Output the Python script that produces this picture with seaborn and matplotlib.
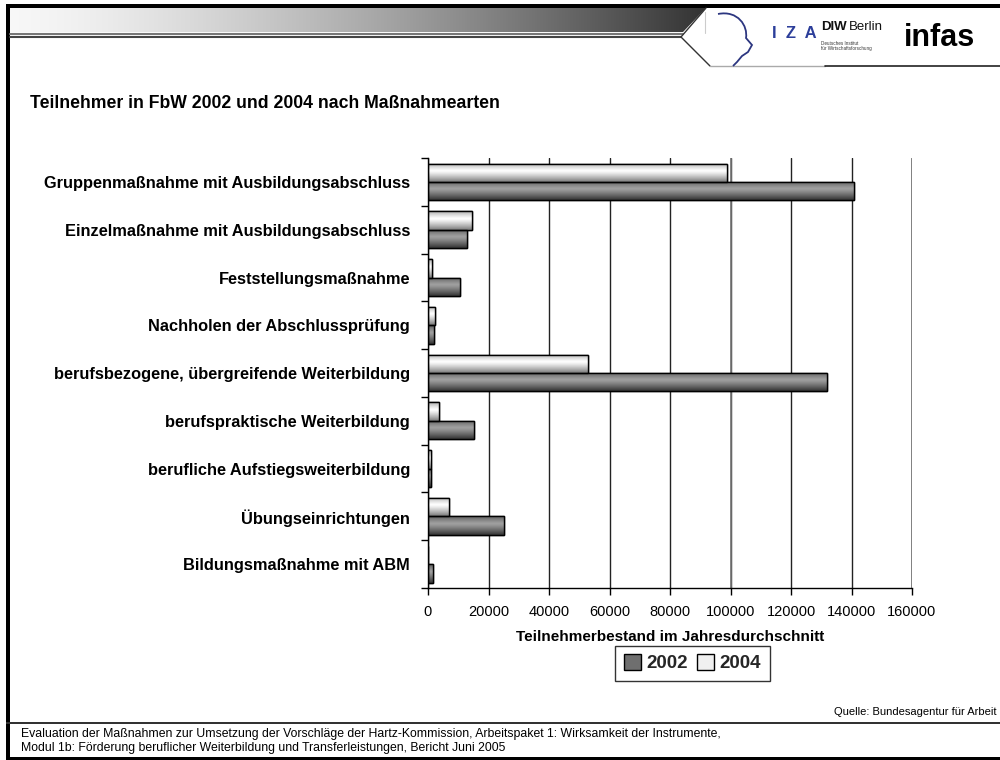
import numpy as np
import pandas as pd
import matplotlib
matplotlib.use("Agg")
import matplotlib.pyplot as plt
import seaborn as sns
from matplotlib.patches import Rectangle, Polygon
from matplotlib.path import Path
from matplotlib.patches import PathPatch

# ---------------- data ----------------
categories = [
    "Gruppenmaßnahme mit Ausbildungsabschluss",
    "Einzelmaßnahme mit Ausbildungsabschluss",
    "Feststellungsmaßnahme",
    "Nachholen der Abschlussprüfung",
    "berufsbezogene, übergreifende Weiterbildung",
    "berufspraktische Weiterbildung",
    "berufliche Aufstiegsweiterbildung",
    "Übungseinrichtungen",
    "Bildungsmaßnahme mit ABM",
]
values_2002 = [140700, 13000, 10600, 2100, 132000, 15100, 900, 25000, 1800]
values_2004 = [99000, 14500, 1200, 2300, 53000, 3600, 900, 7000, 0]
years = ["2002", "2004"]
x_ticks = [0, 20000, 40000, 60000, 80000, 100000, 120000, 140000, 160000]

df = pd.DataFrame({
    "Kategorie": categories * 2,
    "Jahr": ["2002"] * len(categories) + ["2004"] * len(categories),
    "Wert": values_2002 + values_2004,
})

sns.set_theme(style="white")
plt.rcParams["font.family"] = ["Liberation Sans", "DejaVu Sans"]

fig = plt.figure(figsize=(10, 7.6), dpi=100)
fig.patch.set_facecolor("white")

ax = fig.add_axes([0.428, 0.2263, 0.484, 0.5657])

palette = {"2002": "#6f6f6f", "2004": "#ececec"}
sns.barplot(data=df, y="Kategorie", x="Wert", hue="Jahr", order=categories,
            hue_order=["2004", "2002"], palette=palette, orient="h",
            width=0.77, edgecolor="black", linewidth=1.0, ax=ax, legend=False,
            saturation=1, err_kws={"linewidth": 0})

# gradient shading inside each bar (cylinder look)
def shade(col_edge, col_mid):
    t = np.linspace(0, 1, 64)
    prof = np.abs(t - 0.4) / 0.6
    prof = np.clip(prof, 0, 1) ** 1.2
    c0 = np.array(matplotlib.colors.to_rgb(col_mid))
    c1 = np.array(matplotlib.colors.to_rgb(col_edge))
    img = c0[None, :] * (1 - prof[:, None]) + c1[None, :] * prof[:, None]
    return img[:, None, :]

grad_dark = shade("#333333", "#a0a0a0")
grad_light = shade("#7a7a7a", "#ffffff")
for p in list(ax.patches):
    w = p.get_width()
    if w <= 0:
        continue
    fc = matplotlib.colors.to_hex(p.get_facecolor())
    g = grad_dark if fc.lower() == "#6f6f6f" else grad_light
    y0, h = p.get_y(), p.get_height()
    im = ax.imshow(g, extent=[p.get_x(), p.get_x() + w, y0 + h, y0],
                   aspect="auto", zorder=p.get_zorder() + 0.1, interpolation="bilinear")
    im.set_clip_path(p)
    edge = Rectangle((p.get_x(), y0), w, h, fill=False, edgecolor="black",
                     linewidth=1.0, zorder=p.get_zorder() + 0.2)
    ax.add_patch(edge)

ax.set_xlim(0, 160000)
ax.set_ylim(len(categories) - 0.5, -0.5)
ax.set_xticks(x_ticks)
ax.set_xticklabels([str(v) for v in x_ticks], fontsize=10.5, color="black")
ax.set_yticks(range(len(categories)))
ax.set_yticklabels(categories, fontsize=11.8, fontweight="bold", color="black")
ax.tick_params(axis="y", length=0, pad=13)
ax.tick_params(axis="x", length=5, width=1, direction="out", color="black", pad=7, bottom=True)
ax.set_yticks(np.arange(-0.5, len(categories), 1.0), minor=True)
ax.tick_params(axis="y", which="minor", length=5, width=1, direction="out", color="black", left=True)

ax.grid(axis="x", color="#222222", linewidth=1.0)
ax.grid(axis="y", visible=False)
ax.set_axisbelow(True)
for s in ["top", "right"]:
    ax.spines[s].set_visible(False)
for s in ["left", "bottom"]:
    ax.spines[s].set_color("black")
    ax.spines[s].set_linewidth(1.0)
ax.axvline(160000, color="#888888", linewidth=1.2, zorder=0.5)
ax.axvline(100000, color="#777777", linewidth=1.2, zorder=0.6)
ax.set_ylabel("")
ax.set_xlabel("Teilnehmerbestand im Jahresdurchschnitt", fontsize=11,
              fontweight="bold", labelpad=8, color="black")

# legend
handles = [Rectangle((0, 0), 1, 1, facecolor="#6f6f6f", edgecolor="black"),
           Rectangle((0, 0), 1, 1, facecolor="#f0f0f0", edgecolor="black")]
leg = fig.legend(handles, years, loc="center", bbox_to_anchor=(0.6925, 0.1275),
                 ncol=2, frameon=True, fancybox=False, handlelength=0.9,
                 handleheight=0.9, handletextpad=0.3, columnspacing=0.5,
                 borderpad=0.45, prop={"weight": "bold", "size": 13.5})
leg.get_frame().set_edgecolor("black")
leg.get_frame().set_linewidth(1.0)

# ---------------- slide decoration ----------------
deco = fig.add_axes([0, 0, 1, 1], zorder=-1)
deco.set_xlim(0, 1000)
deco.set_ylim(760, 0)
deco.axis("off")

# top black border
deco.add_patch(Rectangle((6, 4), 994, 4, color="black", lw=0))
# left black border
deco.add_patch(Rectangle((6, 4), 4, 756, color="black", lw=0))
# gradient header bar
gx = np.linspace(0, 1, 256)
gcol = np.array([0.97, 0.97, 0.97])[None, :] * (1 - gx[:, None] ** 1.4) + np.array([0.2, 0.2, 0.2])[None, :] * (gx[:, None] ** 1.4)
hb = deco.imshow(gcol[None, :, :], extent=[10, 706, 32, 8], aspect="auto", zorder=1)
hb_poly = Polygon([[10, 8], [706, 8], [683, 32], [10, 32]], closed=True, fc="none", ec="none")
deco.add_patch(hb_poly)
hb.set_clip_path(hb_poly)
deco.plot([10, 683], [33.5, 33.5], color="#777777", lw=1.5, zorder=2)
deco.plot([10, 681], [37, 37], color="#444444", lw=1.5, zorder=2)
deco.plot([706, 681, 710], [8, 37, 66], color="#333333", lw=1.0, zorder=2)
deco.plot([710, 825], [66, 66], color="#aaaaaa", lw=1.0, zorder=2)
deco.plot([825, 1000], [66, 66], color="#222222", lw=1.2, zorder=2)
deco.plot([705, 705], [12, 33], color="#cccccc", lw=0.8, zorder=2)

# IZA head outline
head = Path([(718, 14), (738, 10), (748, 26), (746, 38), (752, 45), (748, 52),
             (742, 56), (737, 62), (733, 66)],
            [Path.MOVETO, Path.CURVE4, Path.CURVE4, Path.CURVE4, Path.LINETO,
             Path.LINETO, Path.LINETO, Path.LINETO, Path.LINETO])
deco.add_patch(PathPatch(head, fill=False, ec="#2c3680", lw=1.3, zorder=3))
deco.text(794, 33, "I  Z  A", fontsize=12, fontweight="bold", color="#2c3e9a",
          ha="center", va="center")
deco.text(821, 27, "DIW", fontsize=9.5, fontweight="bold", color="#111111",
          ha="left", va="center")
deco.text(849, 27, "Berlin", fontsize=9.5, color="#111111", ha="left", va="center")
deco.text(821, 46, "Deutsches Institut\nfür Wirtschaftsforschung", fontsize=3.3,
          color="#333333", ha="left", va="center", linespacing=1.1)
deco.text(939, 38, "infas", fontsize=22, fontweight="bold", color="black",
          ha="center", va="center")

# title
deco.text(30, 103, "Teilnehmer in FbW 2002 und 2004 nach Maßnahmearten",
          fontsize=12.7, fontweight="bold", color="black", ha="left", va="center")

# source
deco.text(997, 712, "Quelle: Bundesagentur für Arbeit", fontsize=8,
          color="black", ha="right", va="center")

# footer
deco.add_patch(Rectangle((6, 722), 994, 1.6, color="#333333", lw=0))
deco.add_patch(Rectangle((6, 756.5), 994, 3.5, color="black", lw=0))
deco.text(21, 734, "Evaluation der Maßnahmen zur Umsetzung der Vorschläge der Hartz-Kommission, "
          "Arbeitspaket 1: Wirksamkeit der Instrumente,", fontsize=8.8, color="black",
          ha="left", va="center")
deco.text(21, 748.5, "Modul 1b: Förderung beruflicher Weiterbildung und Transferleistungen, Bericht Juni 2005",
          fontsize=8.8, color="black", ha="left", va="center")

fig.savefig("out.png", dpi=100)
